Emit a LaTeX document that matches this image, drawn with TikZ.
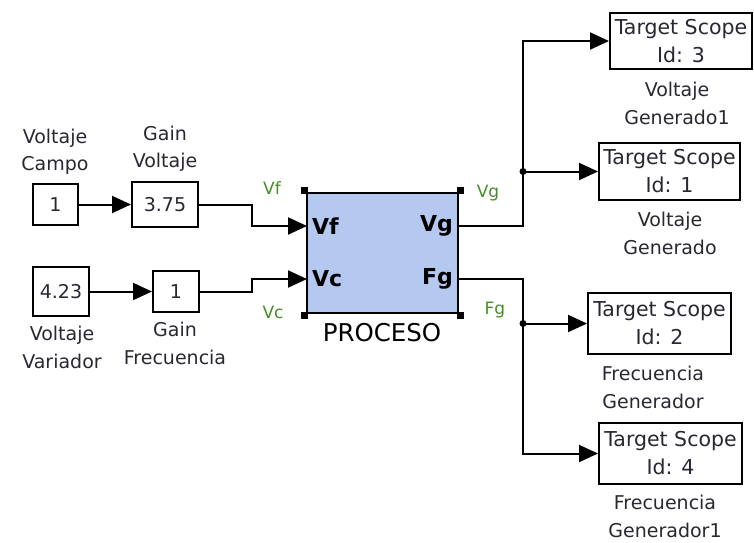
\documentclass[tikz,border=0pt]{standalone}
\usepackage{fontspec}
\setmainfont{DejaVu Sans}
\usetikzlibrary{arrows.meta}
\definecolor{procfill}{RGB}{180,200,240}
\definecolor{siggreen}{RGB}{70,140,40}
\definecolor{txt}{RGB}{40,40,50}
\tikzset{
  blk/.style={draw, line width=2pt, fill=white, inner sep=0pt, text=txt, font=\fontsize{19}{22}\selectfont},
  scopebox/.style={draw, line width=2pt, fill=white, inner sep=0pt, align=center, text=txt, font=\fontsize{20.5}{28}\selectfont},
  lbl/.style={align=center, inner sep=0pt, text=txt, font=\fontsize{19}{27.5}\selectfont},
  sname/.style={inner sep=0pt, text=siggreen, font=\fontsize{17}{20}\selectfont},
  port/.style={inner sep=0pt, font=\bfseries\fontsize{22}{24}\selectfont},
  sig/.style={line width=2pt, -{Triangle[length=19pt,width=17pt]}},
  wire/.style={line width=2pt},
  handle/.style={fill=black, minimum size=7pt, inner sep=0pt},
  jdot/.style={circle, fill=black, minimum size=7pt, inner sep=0pt}
}
\begin{document}
\begin{tikzpicture}[x=1pt,y=-1pt]
\useasboundingbox (0,0) rectangle (754,542);
% source and gain blocks
\node[blk, minimum width=45pt, minimum height=41pt] (c1) at (55.5,204.5) {1};
\node[blk, minimum width=66pt, minimum height=45pt] (g1) at (165,204.5) {3.75};
\node[blk, minimum width=56pt, minimum height=49pt] (c2) at (61,291.5) {4.23};
\node[blk, minimum width=46pt, minimum height=41pt] (g2) at (176,291.5) {1};
% labels
\node[lbl] (lc1) at (55,152) {Voltaje\\Campo};
\node[lbl] (lg1) at (165,149) {Gain\\Voltaje};
\node[lbl] (lc2) at (62,347.5) {Voltaje\\Variador};
\node[lbl] (lg2) at (175,343.5) {Gain\\Frecuencia};
% process block
\node[draw, line width=2pt, fill=procfill, minimum width=151pt, minimum height=120pt, inner sep=0pt] (P) at (382.5,253) {};
\node[handle] (h1) at ([shift={(-1.5,-1.5)}]P.north west) {};
\node[handle] (h2) at ([shift={(1.5,-1.5)}]P.north east) {};
\node[handle] (h3) at ([shift={(-1.5,1.5)}]P.south west) {};
\node[handle] (h4) at ([shift={(1.5,1.5)}]P.south east) {};
\coordinate (pVf) at (307,226);
\coordinate (pVc) at (307,279);
\coordinate (pVg) at (458,226);
\coordinate (pFg) at (458,279);
\node[port, anchor=west] (tVf) at (312,226) {Vf};
\node[port, anchor=west] (tVc) at (312,279) {Vc};
\node[port, anchor=east] (tVg) at (453,226) {Vg};
\node[port, anchor=east] (tFg) at (453,279) {Fg};
\node[inner sep=0pt, font=\fontsize{24.5}{26}\selectfont] (tP) at (382,333) {PROCESO};
% signal names
\node[sname] (nVf) at (272,188) {Vf};
\node[sname] (nVc) at (273,312) {Vc};
\node[sname] (nVg) at (488,193) {Vg};
\node[sname] (nFg) at (495,310) {Fg};
% scopes
\node[scopebox, minimum width=142pt, minimum height=56pt] (s3) at (681,41) {Target Scope\\Id: 3};
\node[scopebox, minimum width=141pt, minimum height=57pt] (s1) at (669.5,171.5) {Target Scope\\Id: 1};
\node[scopebox, minimum width=143pt, minimum height=61pt] (s2) at (659.5,323.5) {Target Scope\\Id: 2};
\node[scopebox, minimum width=143pt, minimum height=61pt] (s4) at (670.5,453.5) {Target Scope\\Id: 4};
\node[lbl] (ls3) at (677,103.5) {Voltaje\\Generado1};
\node[lbl] (ls1) at (670,233.5) {Voltaje\\Generado};
\node[lbl] (ls2) at (653,387.5) {Frecuencia\\Generador};
\node[lbl] (ls4) at (665,516.5) {Frecuencia\\Generador1};
% junctions
\coordinate (bVg) at (523,226);
\coordinate (bFg) at (523,279);
\node[jdot] (j1) at (523,171.5) {};
\node[jdot] (j2) at (523,323.5) {};
% connectors
\draw[sig] (c1.east) -- (g1.west);
\draw[sig] (c2.east) -- (g2.west);
\draw[sig] (g1.east) -- (252,204.5) |- (pVf);
\draw[sig] (g2.east) -- (252,291.5) |- (pVc);
\draw[wire] (pVg) -- (bVg) -- (j1.center);
\draw[sig] (j1.center) |- (s3.west);
\draw[sig] (j1.center) -- (s1.west);
\draw[wire] (pFg) -- (bFg) -- (j2.center);
\draw[sig] (j2.center) -- (s2.west);
\draw[sig] (j2.center) |- (s4.west);
\end{tikzpicture}
\end{document}
